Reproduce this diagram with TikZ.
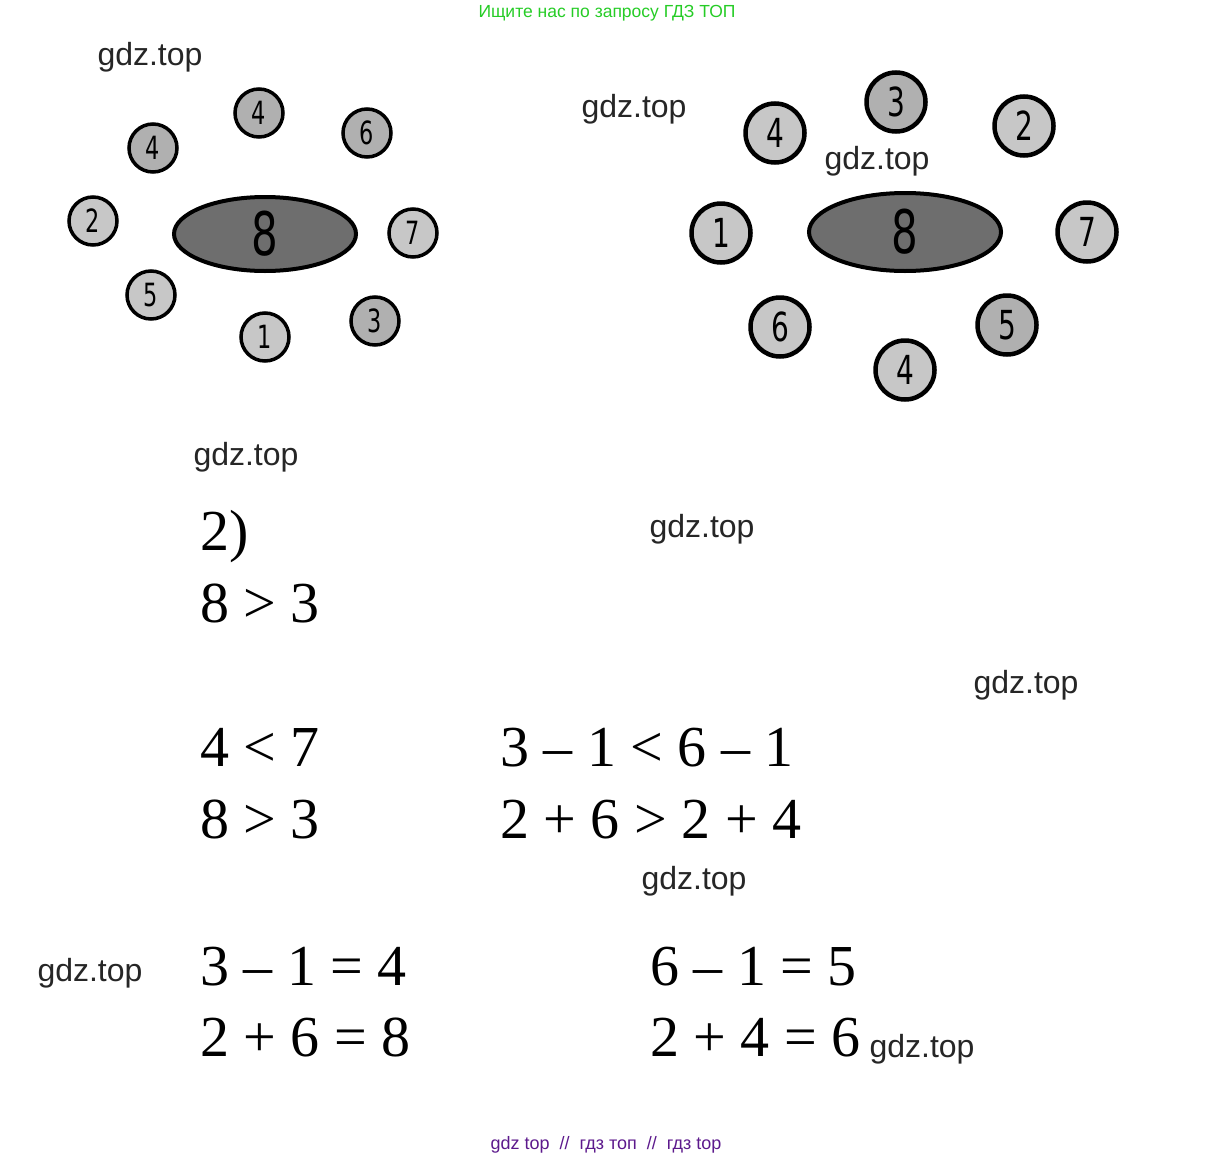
\documentclass[tikz,border=0pt]{standalone}
\usepackage{fontspec}
\setmainfont{Liberation Sans}
\newfontfamily\numfont{Liberation Serif}
\newfontfamily\handfont{DejaVu Sans}
\usetikzlibrary{shapes.geometric}
\definecolor{mgreen}{rgb}{0.15, 0.8, 0.15}
\definecolor{mpurple}{rgb}{0.36, 0.1, 0.55}
\definecolor{lightball}{gray}{0.78}
\definecolor{darkball}{gray}{0.69}
\definecolor{discgray}{gray}{0.43}
\newcommand\handdigit[1]{\scalebox{0.7}[1]{#1}}

\begin{document}
\begin{tikzpicture}[x=1pt, y=-1pt,
    ball/.style={circle, draw, line width=3.5, fill=lightball, minimum size=48, inner sep=0, font=\handfont\fontsize{32}{32}\selectfont},
    bigball/.style={ball, line width=4.5, minimum size=59, font=\handfont\fontsize{40}{40}\selectfont},
    disc/.style={ellipse, draw, line width=4, fill=discgray, inner sep=0, font=\handfont\fontsize{60}{60}\selectfont},
    wm/.style={inner sep=0, text=black!85, font=\fontsize{32}{32}\selectfont},
    sum/.style={anchor=base west, inner sep=0, font=\numfont\fontsize{58}{58}\selectfont}]
    \useasboundingbox (0, 0) rectangle (1214, 1159);

    % first ring
    \node [disc, minimum width=182, minimum height=74] (lmid) at (265, 234) {\handdigit{8}};
    \node [ball, fill=darkball] (la) at (153, 148) {\handdigit{4}};
    \node [ball, fill=darkball] (lb) at (259, 113) {\handdigit{4}};
    \node [ball, fill=darkball] (lc) at (367, 133) {\handdigit{6}};
    \node [ball] (ld) at (93, 221) {\handdigit{2}};
    \node [ball] (le) at (413, 233) {\handdigit{7}};
    \node [ball] (lf) at (151, 295) {\handdigit{5}};
    \node [ball] (lg) at (265, 337) {\handdigit{1}};
    \node [ball, fill=darkball] (lh) at (375, 321) {\handdigit{3}};

    % second ring
    \node [disc, minimum width=192, minimum height=78] (rmid) at (905, 232) {\handdigit{8}};
    \node [bigball] (ra) at (775, 133) {\handdigit{4}};
    \node [bigball, fill=darkball] (rb) at (896, 102) {\handdigit{3}};
    \node [bigball] (rc) at (1024, 126) {\handdigit{2}};
    \node [bigball] (rd) at (721, 233) {\handdigit{1}};
    \node [bigball] (re) at (1087, 232) {\handdigit{7}};
    \node [bigball] (rf) at (780, 327) {\handdigit{6}};
    \node [bigball, fill=darkball] (rg) at (1007, 325) {\handdigit{5}};
    \node [bigball] (rh) at (905, 370) {\handdigit{4}};

    % sums
    \node [sum] (task) at (200, 550) {2)};
    \node [sum] (sa) at (200, 622) {8 > 3};
    \node [sum] (sb) at (200, 766) {4 < 7};
    \node [sum] (sc) at (200, 838) {8 > 3};
    \node [sum] (sd) at (500, 766) {3 – 1 < 6 – 1};
    \node [sum] (se) at (500, 838) {2 + 6 > 2 + 4};
    \node [sum] (sf) at (200, 985) {3 – 1 = 4};
    \node [sum] (sg) at (200, 1056) {2 + 6 = 8};
    \node [sum] (sh) at (650, 985) {6 – 1 = 5};
    \node [sum] (si) at (650, 1056) {2 + 4 = 6};

    % watermarks
    \node [wm] (wa) at (150, 57) {gdz.top};
    \node [wm] (wb) at (634, 109) {gdz.top};
    \node [wm] (wc) at (877, 161) {gdz.top};
    \node [wm] (wd) at (246, 457) {gdz.top};
    \node [wm] (we) at (702, 529) {gdz.top};
    \node [wm] (wf) at (1026, 685) {gdz.top};
    \node [wm] (wg) at (694, 881) {gdz.top};
    \node [wm] (wh) at (90, 973) {gdz.top};
    \node [wm] (wi) at (922, 1049) {gdz.top};

    \node [text=mgreen, font=\fontsize{17.5}{17.5}\selectfont] (head) at (607, 13) {Ищите нас по запросу ГДЗ ТОП};
    \node [text=mpurple, font=\fontsize{18}{18}\selectfont] (foot) at (606, 1145) {gdz top \ // \ гдз топ \ // \ гдз top};
  \end{tikzpicture}
\end{document}
